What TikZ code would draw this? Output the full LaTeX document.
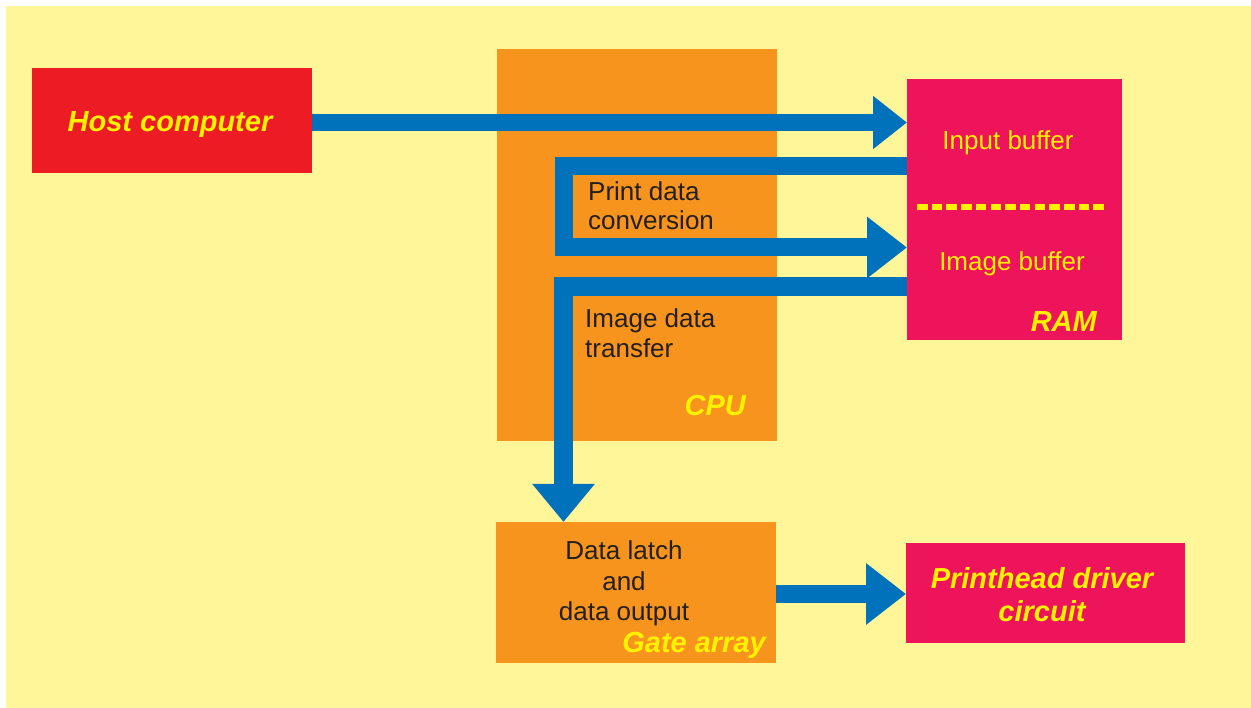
\documentclass[tikz,border=0pt]{standalone}
\usepackage{fontspec}
\setmainfont{Liberation Sans}
\usetikzlibrary{arrows.meta}
\definecolor{bgyel}{RGB}{255,246,153}
\definecolor{hostred}{RGB}{237,28,36}
\definecolor{cpuor}{RGB}{247,148,30}
\definecolor{ramred}{RGB}{237,20,91}
\definecolor{flowblue}{RGB}{0,114,188}
\definecolor{txtyel}{RGB}{255,242,0}
\definecolor{txtdark}{RGB}{35,31,32}
\tikzset{
  blockbox/.style={rectangle, inner sep=0pt, outer sep=0pt, draw=none},
  regtext/.style={inner sep=0pt, text=txtdark, font=\fontsize{26}{30}\selectfont},
  ramtext/.style={inner sep=0pt, text=txtyel, font=\fontsize{26}{30}\selectfont},
  boldlab/.style={inner sep=0pt, text=txtyel, font=\fontsize{29}{32}\selectfont\bfseries\itshape},
  flow/.style={draw=flowblue, line width=18pt, line join=miter, line cap=butt},
}
\begin{document}
\begin{tikzpicture}[x=1pt,y=-1pt]
\useasboundingbox (0,0) rectangle (1251,708);
\fill[bgyel] (6,6) rectangle (1251,708);

% blocks
\node[blockbox, fill=hostred, minimum width=280pt, minimum height=105pt] (host) at (172,120.5) {};
\node[blockbox, fill=cpuor, minimum width=280pt, minimum height=392pt] (cpu) at (637,245) {};
\node[blockbox, fill=ramred, minimum width=215pt, minimum height=261pt] (ram) at (1014.5,209.5) {};
\node[blockbox, fill=cpuor, minimum width=280pt, minimum height=141pt] (gate) at (636,592.5) {};
\node[blockbox, fill=ramred, minimum width=279pt, minimum height=100pt] (phd) at (1045.5,593) {};

% bend points
\coordinate (a2s) at (907,166);
\coordinate (a2b) at (563.5,166);
\coordinate (a2c) at (563.5,247.5);
\coordinate (a3s) at (907,286.5);
\coordinate (a3b) at (563.5,286.5);

% connectors
\draw[flow, line width=17pt, -{Triangle[length=34pt,width=51pt]}]
  ([yshift=-2pt]host.east) -- ([yshift=-2pt]host.east -| ram.west);
\draw[flow, -{Triangle[length=40pt,width=59pt]}]
  (a2s) -- (a2b) -- (a2c) -- (a2c -| ram.west);
\draw[flow, line width=19pt, -{Triangle[length=38pt,width=60pt]}]
  (a3s) -- (a3b) -- (a3b |- gate.north);
\draw[flow, -{Triangle[length=40pt,width=59pt]}]
  ([yshift=-1.5pt]gate.east) -- ([yshift=-1.5pt]gate.east -| phd.west);

% dashed divider in RAM
\draw[txtyel, line width=5.5pt, dash pattern=on 10.5pt off 4.2pt] (917,207) -- (1104,207);

% texts
\node[boldlab, anchor=base] (thost) at (170,132) {Host computer};
\node[regtext, anchor=base west, align=left] (tpdc) at (588,201) {Print data};
\node[regtext, anchor=base west, align=left] (tpdc2) at (588,230) {conversion};
\node[regtext, anchor=base west] (tidt) at (585,327.5) {Image data};
\node[regtext, anchor=base west] (tidt2) at (585,357.5) {transfer};
\node[boldlab, anchor=base east] (tcpu) at (746,416) {CPU};
\node[ramtext, anchor=base] (tin) at (1008,150) {Input buffer};
\node[ramtext, anchor=base] (tim) at (1012,271) {Image buffer};
\node[boldlab, anchor=base east] (tram) at (1097,332) {RAM};
\node[regtext, anchor=base] (tdl1) at (624,559) {Data latch};
\node[regtext, anchor=base] (tdl2) at (624,590) {and};
\node[regtext, anchor=base] (tdl3) at (624,620) {data output};
\node[boldlab, anchor=base east] (tgate) at (766,652) {Gate array};
\node[boldlab, anchor=base] (tph1) at (1042,588) {Printhead driver};
\node[boldlab, anchor=base] (tph2) at (1042,621) {circuit};
\end{tikzpicture}
\end{document}
